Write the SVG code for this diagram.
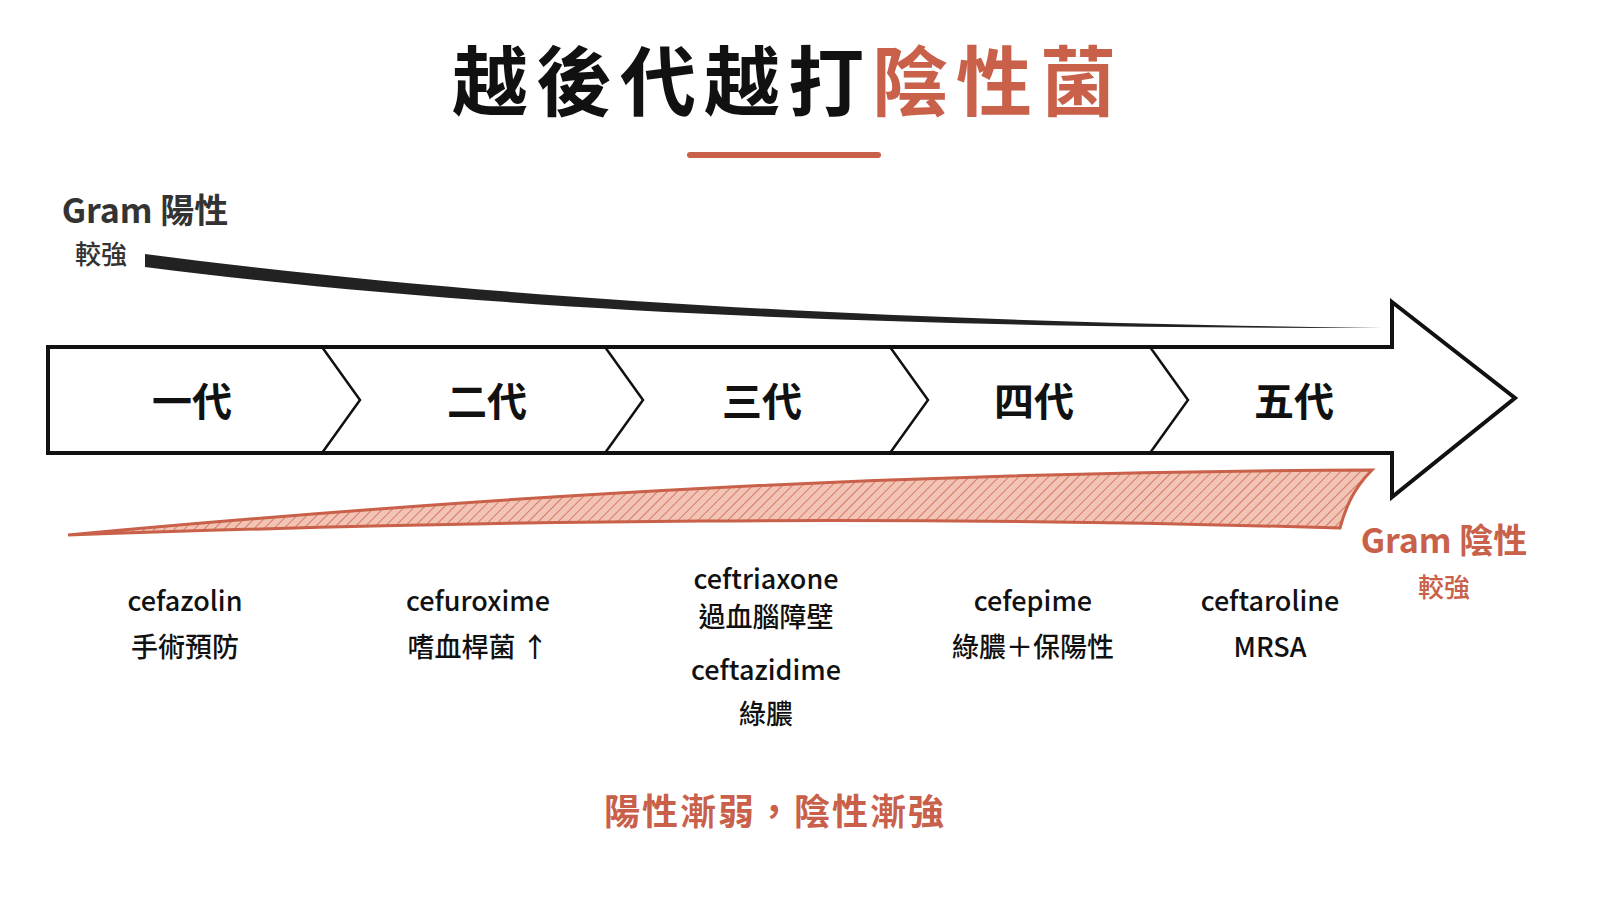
<svg xmlns="http://www.w3.org/2000/svg" width="1600" height="900" viewBox="0 0 1600 900">
<style>
text{font-family:"Noto Sans CJK TC","Noto Sans",sans-serif;text-anchor:middle}
.gen{font-size:40px;font-weight:700;fill:#111}
.drug{font-size:27px;fill:#111;font-weight:500}
.red{fill:#c8604a}
</style>
<defs>
<pattern id="hatch" width="7" height="7" patternUnits="userSpaceOnUse" patternTransform="rotate(45)">
<rect width="7" height="7" fill="#f2c4b6"/>
<line x1="0" y1="0" x2="0" y2="7" stroke="#d97a64" stroke-width="2"/>
</pattern>
</defs>
<rect width="1600" height="900" fill="#fff"/>
<g id="title">
<text x="788" y="110" font-size="76" font-weight="700" letter-spacing="8"><tspan fill="#111">越後代越打</tspan><tspan fill="#c8604a">陰性菌</tspan></text>
<line x1="690" y1="155" x2="878" y2="155" stroke="#c8604a" stroke-width="6" stroke-linecap="round"/>
</g>
<g id="gram-pos">
<text x="145" y="223" font-size="34" font-weight="700" fill="#333">Gram 陽性</text>
<text x="101" y="264" font-size="26" font-weight="500" fill="#333">較強</text>
<path d="M145,254 C500,300 900,322 1382,328 C900,328 500,312 145,267 Z" fill="#222"/>
</g>
<g id="arrow">
<path d="M48,347 H1392 V302 L1515,398 L1392,497 V453 H48 Z" fill="#fff" stroke="#111" stroke-width="4" stroke-linejoin="miter"/>
</g>
<g id="connectors" fill="none" stroke="#111" stroke-width="2.5">
<polyline points="322,347 360,400 322,453"/>
<polyline points="605,347 643,400 605,453"/>
<polyline points="890,347 928,400 890,453"/>
<polyline points="1150,347 1188,400 1150,453"/>
</g>
<g id="gen1"><text class="gen" x="192" y="416">一代</text></g>
<g id="gen2"><text class="gen" x="487" y="416">二代</text></g>
<g id="gen3"><text class="gen" x="762" y="416">三代</text></g>
<g id="gen4"><text class="gen" x="1034" y="416">四代</text></g>
<g id="gen5"><text class="gen" x="1294" y="416">五代</text></g>
<g id="gram-neg">
<path d="M68,535 C500,495 900,472 1372,470 C1352,490 1345,510 1340,528 C900,515 500,520 68,535 Z" fill="url(#hatch)" stroke="#c8604a" stroke-width="3"/>
<text x="1444" y="553" font-size="34" font-weight="700" class="red">Gram 陰性</text>
<text x="1444" y="597" font-size="26" font-weight="500" class="red">較強</text>
</g>
<g id="drug1"><text class="drug" x="185" y="611">cefazolin</text><text class="drug" x="185" y="657">手術預防</text></g>
<g id="drug2"><text class="drug" x="478" y="611">cefuroxime</text><text class="drug" x="478" y="657">嗜血桿菌 ↑</text></g>
<g id="drug3"><text class="drug" x="766" y="589">ceftriaxone</text><text class="drug" x="766" y="627">過血腦障壁</text><text class="drug" x="766" y="680">ceftazidime</text><text class="drug" x="766" y="724">綠膿</text></g>
<g id="drug4"><text class="drug" x="1033" y="611">cefepime</text><text class="drug" x="1033" y="657">綠膿＋保陽性</text></g>
<g id="drug5"><text class="drug" x="1270" y="611">ceftaroline</text><text class="drug" x="1270" y="657">MRSA</text></g>
<g id="footer"><text x="775" y="825" font-size="36" font-weight="700" class="red" letter-spacing="2">陽性漸弱，陰性漸強</text></g>
</svg>
